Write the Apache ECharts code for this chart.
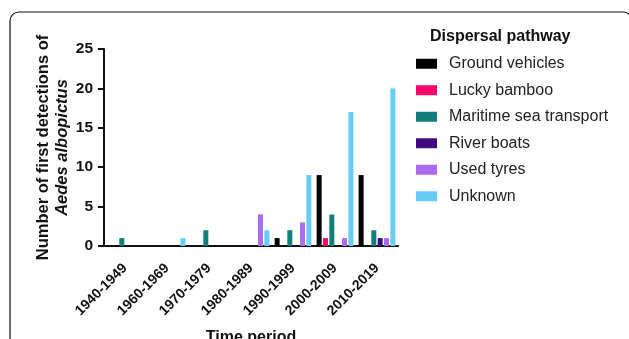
<!DOCTYPE html>
<html>
<head>
<meta charset="utf-8">
<script src="https://cdn.jsdelivr.net/npm/echarts@6/dist/echarts.min.js"></script>
<style>
html,body{margin:0;padding:0;background:#fff;}
#c{width:629px;height:339px;}
</style>
</head>
<body>
<div id="c"></div>
<script>
var categories = ['1940-1949','1960-1969','1970-1979','1980-1989','1990-1999','2000-2009','2010-2019'];
var seriesNames = ['Ground vehicles','Lucky bamboo','Maritime sea transport','River boats','Used tyres','Unknown'];
var groundVehicles = [0,0,0,0,1,9,9];
var luckyBamboo = [0,0,0,0,0,1,0];
var maritime = [1,0,2,0,2,4,2];
var riverBoats = [0,0,0,0,0,0,1];
var usedTyres = [0,0,0,4,3,1,1];
var unknown = [0,1,0,2,9,17,20];
var colors = ['#000000','#f5086a','#127e7b','#3d0a7f','#a96cf0','#66ccf8'];
var yTicks = [0,5,10,15,20,25];

var allData = [groundVehicles, luckyBamboo, maritime, riverBoats, usedTyres, unknown];
var font = 'Liberation Sans, Arial, sans-serif';

var chart = echarts.init(document.getElementById('c'), null, {renderer:'canvas'});
chart.setOption({
  animation:false,
  backgroundColor:'#fff',
  color: colors,
  grid:{left:104, top:49, right:231, bottom:93, containLabel:false, outerBoundsMode:'none'},
  legend:{
    orient:'vertical', left:416, top:55.5, padding:0,
    itemWidth:21, itemHeight:10, itemGap:10,
    icon:'rect',
    data: seriesNames,
    textStyle:{fontFamily:font, fontSize:16, color:'#222', lineHeight:16.5, padding:[0,0,0,7]}
  },
  graphic:[
    {type:'rect', shape:{x:10, y:12, width:622, height:400, r:9}, style:{fill:'none', stroke:'#111', lineWidth:1.2}, silent:true},
    {type:'text', left:430, top:29, style:{text:'Dispersal pathway', font:'bold 16px '+font, fill:'#111'}}
  ],
  xAxis:{
    type:'category', data:categories,
    axisLine:{lineStyle:{color:'#111', width:2}},
    axisTick:{alignWithLabel:true, length:8, lineStyle:{color:'#111', width:2}},
    axisLabel:{rotate:45, margin:20, fontFamily:font, fontWeight:'bold', fontSize:14, color:'#111', interval:0},
    name:'Time period', nameLocation:'middle', nameGap:84,
    nameTextStyle:{fontFamily:font, fontWeight:'bold', fontSize:16, color:'#111'}
  },
  yAxis:{
    type:'value', min:0, max:25, interval:5,
    axisLine:{show:true, lineStyle:{color:'#111', width:2}},
    axisTick:{show:true, length:6, lineStyle:{color:'#111', width:2}},
    splitLine:{show:false},
    axisLabel:{margin:11, fontFamily:font, fontWeight:'bold', fontSize:15.5, color:'#111',
      formatter:function(v){return yTicks.indexOf(v)>=0? String(v):'';}},
    name:'{a|Number of first detections of}\n{b|Aedes albopictus}',
    nameLocation:'middle', nameGap:32, nameRotate:90,
    nameTextStyle:{
      rich:{
        a:{fontFamily:font, fontWeight:'bold', fontSize:16.5, color:'#111', lineHeight:19},
        b:{fontFamily:font, fontWeight:'bold', fontStyle:'italic', fontSize:16.5, color:'#111', lineHeight:19}
      }
    }
  },
  series: seriesNames.map(function(n,i){
    return {name:n, type:'bar', data:allData[i], barWidth:5, barGap:'27%', itemStyle:{color:colors[i]}};
  })
});
</script>
</body>
</html>
